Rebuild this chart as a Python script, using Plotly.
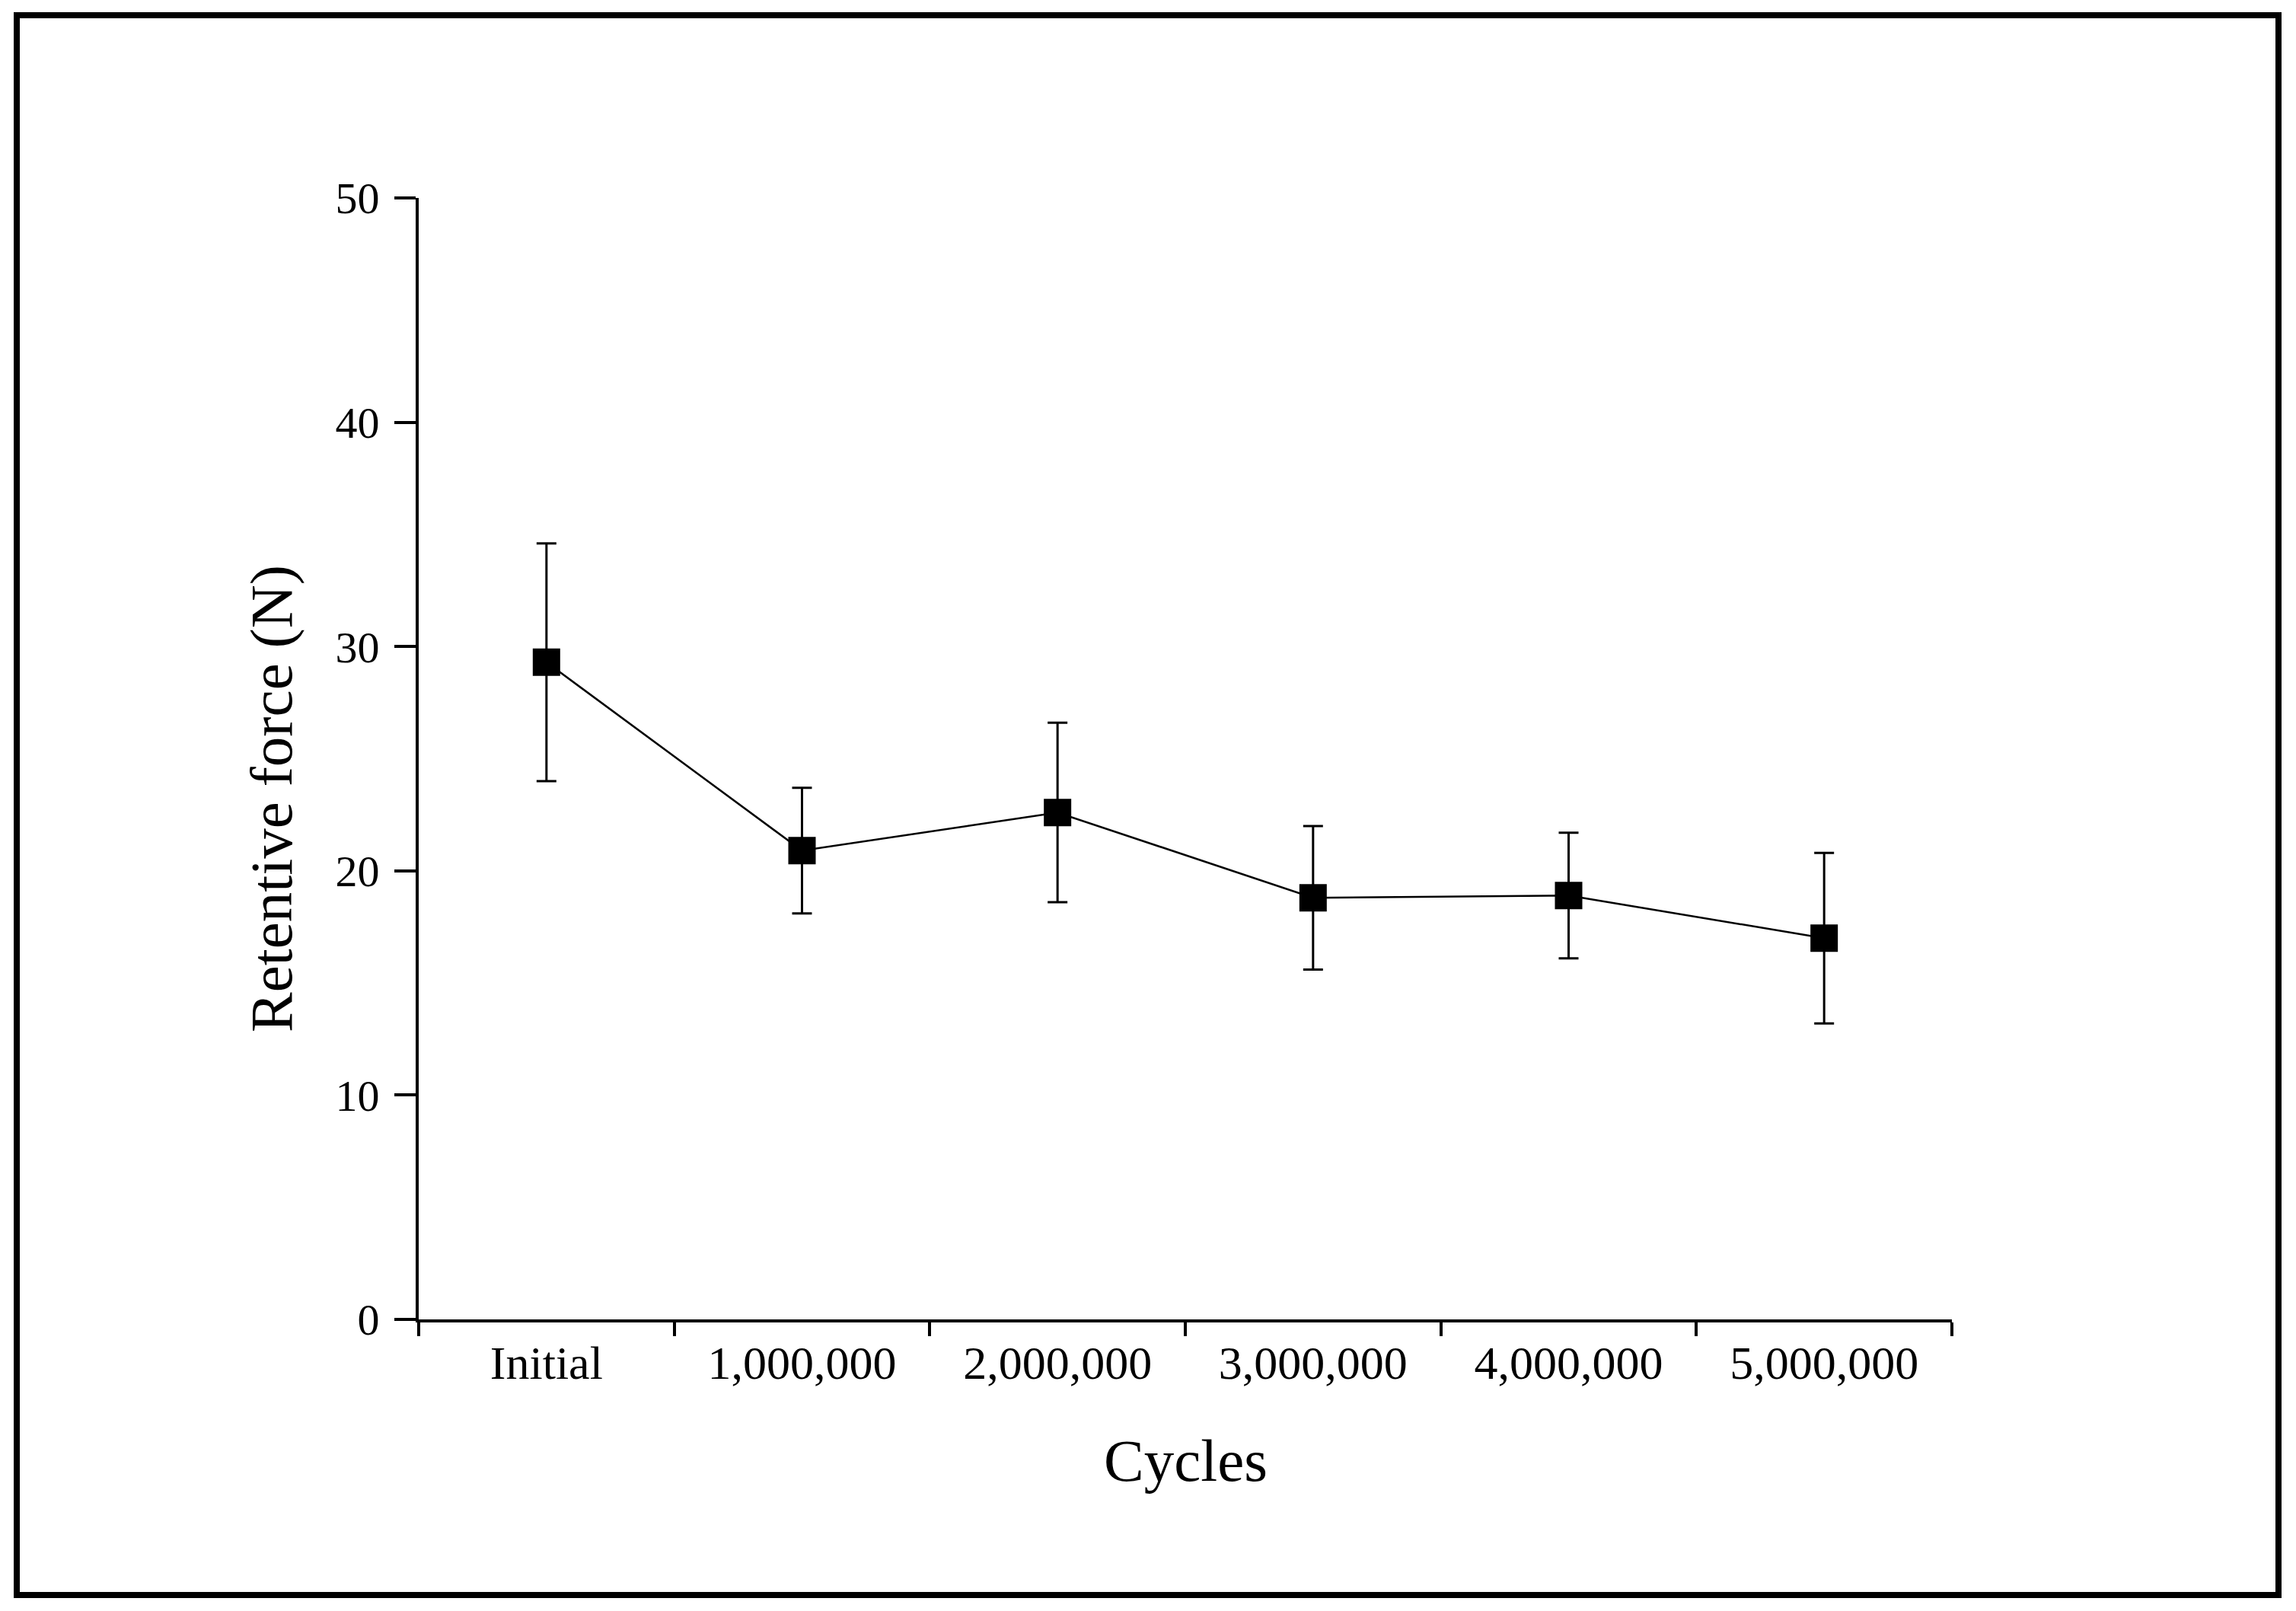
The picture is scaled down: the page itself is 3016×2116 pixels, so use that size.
import plotly.graph_objects as go

categories = ["Initial", "1,000,000", "2,000,000", "3,000,000", "4,000,000", "5,000,000"]
mean_force = [29.3, 20.9, 22.6, 18.8, 18.9, 17.0]
sd_force = [5.3, 2.8, 4.0, 3.2, 2.8, 3.8]
y_ticks = [0, 10, 20, 30, 40, 50]

FONT = "Liberation Serif, Times New Roman, serif"

fig = go.Figure()
fig.add_trace(go.Scatter(
    x=categories,
    y=mean_force,
    mode="lines+markers",
    line=dict(color="black", width=2.5),
    marker=dict(symbol="square", size=36, color="black"),
    error_y=dict(type="data", array=sd_force, visible=True,
                 color="black", thickness=3, width=13),
    showlegend=False,
))

# page has an 8px body margin; figure is placed at (8, 8)
OFF = 8
W, H = 3000, 2100
L, T = 550 - OFF, 260 - OFF
R = W - (2564 - OFF)
B = H - (1733 - OFF)
pw, ph = W - L - R, H - T - B

def px_x(p):
    return (p - OFF - L) / pw

def px_y(p):
    return (H - B - (p - OFF)) / ph

fig.update_layout(
    width=W, height=H,
    margin=dict(l=L, r=R, t=T, b=B, pad=0),
    paper_bgcolor="white",
    plot_bgcolor="white",
    font=dict(family=FONT, color="black"),
    xaxis=dict(
        type="category",
        range=[-0.5, 5.5],
        tickson="boundaries",
        ticks="outside", ticklen=18, tickwidth=4, tickcolor="black",
        showline=True, linewidth=4, linecolor="black",
        showgrid=False, zeroline=False,
        tickfont=dict(family=FONT, size=62, color="black"),
    ),
    yaxis=dict(
        range=[0, 50],
        tickvals=y_ticks,
        ticks="outside", ticklen=28, tickwidth=4, tickcolor="black",
        showline=True, linewidth=4, linecolor="black",
        showgrid=False, zeroline=False,
        tickfont=dict(family=FONT, size=58, color="black"),
        ticklabelstandoff=8,
    ),
    annotations=[
        dict(text="Cycles", xref="paper", yref="paper",
             x=0.5, y=px_y(1918), xanchor="center", yanchor="middle",
             showarrow=False, font=dict(family=FONT, size=79, color="black")),
        dict(text="Retentive force (N)", xref="paper", yref="paper",
             x=px_x(356), y=px_y(1049), xanchor="center", yanchor="middle",
             textangle=-90, showarrow=False,
             font=dict(family=FONT, size=79, color="black")),
    ],
    shapes=[
        dict(type="rect", xref="paper", yref="paper",
             x0=px_x(22), x1=px_x(2993), y0=px_y(2095), y1=px_y(20),
             line=dict(color="black", width=8), fillcolor="rgba(0,0,0,0)",
             layer="above"),
    ],
)

fig.write_html("out.html")
